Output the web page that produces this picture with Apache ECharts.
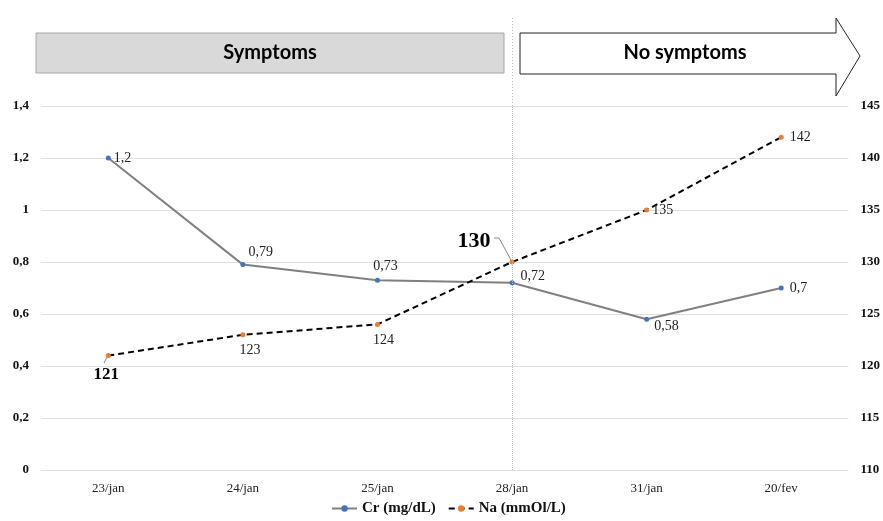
<!DOCTYPE html>
<html><head><meta charset="utf-8">
<script src="https://cdn.jsdelivr.net/npm/echarts@6/dist/echarts.min.js"></script>
<style>html,body{margin:0;padding:0;background:#fff}#c{width:883px;height:521px}</style>
</head><body><div id="c"></div>
<script>
const categories = ['23/jan','24/jan','25/jan','28/jan','31/jan','20/fev'];
const crValues = [1.2, 0.79, 0.73, 0.72, 0.58, 0.7];
const naValues = [121, 123, 124, 130, 135, 142];
const crTicks = [0, 0.2, 0.4, 0.6, 0.8, 1, 1.2, 1.4];
const naTicks = [110, 115, 120, 125, 130, 135, 140, 145];

const serif = '"Liberation Serif","DejaVu Serif",serif';
// label placement per point (styling, kept apart from values)
const crLabelStyle = [
  {position:'right', distance:3, offset:[0,0]},
  {position:'right', distance:3, offset:[0,-12]},
  {position:'top', distance:4, offset:[8,0]},
  {position:'right', distance:6, offset:[0,-6]},
  {position:'right', distance:5, offset:[0,7]},
  {position:'right', distance:6, offset:[0,0]}
];
const naLabelStyle = [
  {position:'bottom', distance:8, offset:[-2,0], size:17},
  {position:'bottom', distance:6, offset:[7,0]},
  {position:'bottom', distance:6, offset:[6,0]},
  {position:'left', distance:19, offset:[0,-21], size:22},
  {position:'right', distance:3, offset:[0,0]},
  {position:'right', distance:6, offset:[0,0]}
];

const crData = crValues.map((v,i)=>({value:v, label:Object.assign({show:true}, crLabelStyle[i])}));
const naData = naValues.map((v,i)=>{
  const s = naLabelStyle[i];
  return {value:v, label:{show:true, position:s.position, distance:s.distance, offset:s.offset,
    fontSize: s.size||14, fontWeight: s.size?'bold':'normal', color: s.size?'#000':'#222'}};
});

const chart = echarts.init(document.getElementById('c'));
chart.setOption({
  animation:false,
  grid:{left:41, right:34, top:106, bottom:51},
  legend:{
    bottom:0, left:326, itemWidth:25, itemHeight:8, itemGap:12,
    textStyle:{fontFamily:serif, fontSize:15, fontWeight:'bold', color:'#111'},
    data:['Cr (mg/dL)','Na (mmOl/L)']
  },
  xAxis:{
    type:'category', data:categories, boundaryGap:true,
    axisLine:{show:false}, axisTick:{show:false},
    axisLabel:{fontFamily:serif, fontSize:13, color:'#222', margin:12}
  },
  yAxis:[
    {type:'value', min:crTicks[0], max:crTicks[crTicks.length-1], interval:0.2,
     axisLine:{show:false}, axisTick:{show:false},
     splitLine:{lineStyle:{color:'#e0e0e0', width:1}},
     axisLabel:{fontFamily:serif, fontSize:13, fontWeight:'bold', color:'#111', margin:12,
       formatter:v=>String(+v.toFixed(1)).replace('.',',')}},
    {type:'value', min:naTicks[0], max:naTicks[naTicks.length-1], interval:5,
     axisLine:{show:false}, axisTick:{show:false}, splitLine:{show:false},
     axisLabel:{fontFamily:serif, fontSize:13, fontWeight:'bold', color:'#111', margin:12}}
  ],
  series:[
    {name:'Cr (mg/dL)', type:'line', yAxisIndex:0, data:crData,
     symbol:'circle', symbolSize:5,
     itemStyle:{color:'#4472c4'},
     lineStyle:{color:'#808080', width:2},
     label:{fontFamily:serif, fontSize:14, color:'#222', formatter:p=>String(p.value).replace('.',',')},
     markLine:{silent:true, symbol:'none', label:{show:false},
       lineStyle:{color:'#bbbbbb', type:'dotted', width:1},
       data:[{xAxis:'28/jan'}]},
     z:3},
    {name:'Na (mmOl/L)', type:'line', yAxisIndex:1, data:naData,
     symbol:'circle', symbolSize:5,
     itemStyle:{color:'#ed7d31'},
     lineStyle:{color:'#000', width:2, type:[6,4]},
     label:{fontFamily:serif, color:'#222'},
     z:4}
  ],
  graphic:[
    {type:'rect', shape:{x:36, y:33, width:468, height:40},
     style:{fill:'#d9d9d9', stroke:'#a6a6a6', lineWidth:1}},
    {type:'text', x:270, y:53, style:{text:'Symptoms', font:'bold 20px Lato, "Open Sans", sans-serif', fill:'#000', align:'center', verticalAlign:'middle'}},
    {type:'polygon', shape:{points:[[520,33],[836,33],[836,18],[860,56],[836,96],[836,74],[520,74]]},
     style:{fill:'#fff', stroke:'#222', lineWidth:1}},
    {type:'text', x:685, y:53, style:{text:'No symptoms', font:'bold 20px Lato, "Open Sans", sans-serif', fill:'#000', align:'center', verticalAlign:'middle'}},
    {type:'line', shape:{x1:512.5, y1:18, x2:512.5, y2:106}, style:{stroke:'#bbbbbb', lineDash:[1,2], lineWidth:1}},
    {type:'polyline', shape:{points:[[494,238],[499,238],[511,260]]}, style:{stroke:'#888', fill:null, lineWidth:1}},
    {type:'polyline', shape:{points:[[104,363],[107,357]]}, style:{stroke:'#888', fill:null, lineWidth:1}}
  ]
});
</script></body></html>
